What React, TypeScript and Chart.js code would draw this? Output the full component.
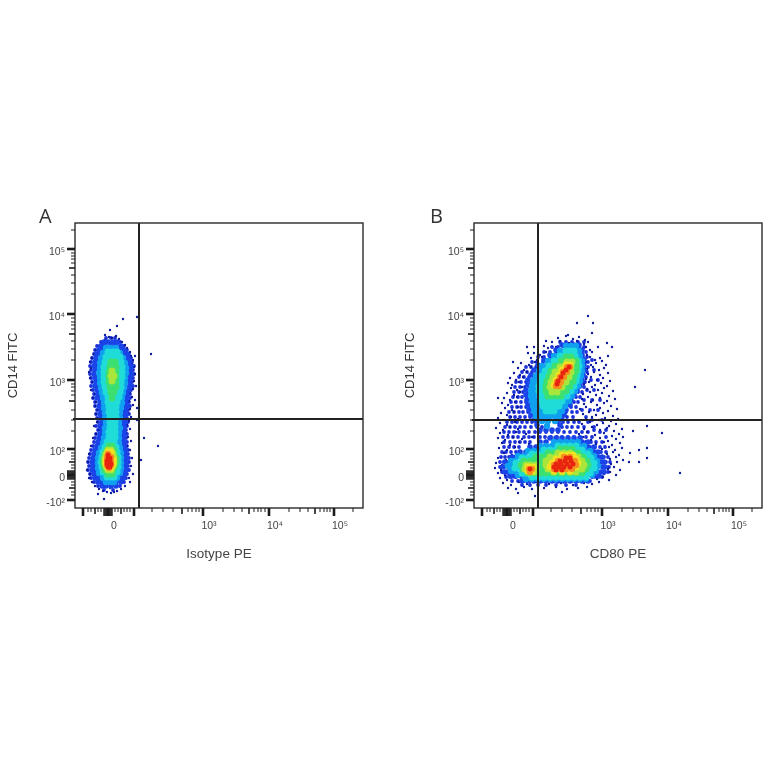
import { useEffect, useRef } from "react";
import { Chart, registerables } from "chart.js";

Chart.register(...registerables);

type Pt = number[];

// biexponential axis, in display channels
const bigTicks = [8, 33, 59, 128, 194, 259];
const midTicks = [20, 46, 107, 174, 240];
const zeroBlock = [29, 30, 31, 32, 34, 35, 36, 37];
const smallTicks = [
  13, 16, 23, 26, 40, 43, 49, 52, 55, 77, 88, 98, 113, 117, 121, 124,
  148, 159, 167, 179, 183, 186, 190, 214, 225, 233, 245, 249, 252, 255, 278,
];
const xLabelTicks = [33, 128, 194, 259];
const xLabels = ["0", "10³", "10⁴", "10⁵"];
const yLabelTicks = [8, 33, 59, 128, 194, 259];
const yLabels = ["-10²", "0", "10²", "10³", "10⁴", "10⁵"];

const gateA = { x: 64, y: 89 };
const gateB = { x: 64, y: 88 };

// single events: [x, y] in channels
const aDots: Pt[] = [
  [30,168],[34,171],[37,170],[41,172],[44,169],[27,165],[47,166],[24,162],[50,163],[52,160],[21,158],[55,156],
  [19,154],[56,152],[17,150],[58,148],[15,146],[18,143],[57,144],[16,140],[59,141],[14,136],[56,137],[18,133],
  [60,134],[15,130],[57,130],[17,126],[59,127],[19,122],[56,123],[16,118],[58,119],[20,114],[55,115],[18,110],
  [57,111],[21,106],[54,107],[20,102],[58,103],[23,98],[55,99],[21,94],[53,95],[24,90],[56,91],[22,86],[54,87],
  [19,82],[52,83],[24,78],[55,79],[21,74],[51,75],[18,70],[53,71],[22,66],[56,67],[16,62],[52,62],[19,58],[55,58],
  [14,54],[50,54],[17,50],[57,50],[13,46],[53,46],[16,42],[56,42],[12,38],[52,38],[15,34],[58,34],[14,30],[54,30],
  [17,26],[55,26],[20,22],[50,22],[24,19],[46,19],[28,17],[42,17],[32,16],[36,15],[39,16],[26,160],[30,162],[35,165],
  [40,165],[45,160],[22,150],[24,140],[22,128],[25,115],[24,105],[26,92],[25,80],[24,68],[22,55],[20,45],[20,35],
  [23,27],[28,23],[35,20],[42,23],[48,27],[50,35],[50,44],[48,55],[48,68],[49,80],[50,90],[52,105],[52,118],[54,130],
  [53,145],[50,155],[48,189],[62,191],[42,182],[35,178],[30,173],[76,154],[69,70],[83,62],[66,48],[23,14],[29,9],
  [62,88],[62,100],[60,108],[61,122],[60,152],
];
const bDots: Pt[] = [
  [114,192],[103,185],[119,185],[118,175],[94,173],[133,165],[138,161],[171,138],[161,121],[124,161],[134,152],[72,167],
  [53,161],[60,161],[54,155],[39,146],[24,110],[173,82],[159,77],[188,75],[173,50],[165,46],[173,60],[165,58],[156,55],
  [155,46],[206,35],
  [84,170],[92,172],[99,169],[105,171],[111,168],[78,166],[86,167],[95,165],[103,167],[110,164],[114,166],[70,162],
  [74,160],[82,161],[106,159],[112,161],[116,158],[60,155],[66,153],[72,156],[78,154],[108,155],[113,153],[118,156],
  [57,150],[63,148],[68,151],[110,149],[116,151],[121,148],[126,150],[47,145],[55,143],[61,146],[112,146],[117,143],
  [122,145],[128,147],[132,143],[44,140],[50,138],[57,141],[113,139],[119,141],[125,138],[130,140],[40,135],[46,133],
  [53,136],[114,134],[120,136],[126,133],[134,135],[36,130],[42,128],[49,131],[112,129],[117,131],[123,128],[129,130],
  [136,127],[34,125],[38,123],[45,126],[110,124],[115,126],[121,123],[127,125],[133,122],[37,120],[43,118],[48,121],
  [113,119],[118,121],[124,118],[130,120],[139,117],[33,115],[40,113],[46,116],[109,114],[116,116],[122,113],[128,115],
  [135,112],[30,110],[36,108],[43,111],[108,109],[114,111],[119,108],[126,110],[133,107],[141,109],[28,105],[34,103],
  [41,106],[110,104],[117,106],[123,103],[130,105],[137,102],[31,100],[38,98],[44,101],[106,99],[112,101],[120,98],
  [126,100],[134,97],[143,99],[27,95],[33,93],[40,96],[109,94],[115,96],[122,93],[129,95],[139,92],[24,90],[30,88],
  [37,91],[44,89],[112,89],[118,91],[125,88],[131,90],[137,87],[144,89],[26,85],[33,83],[41,86],[108,84],[116,86],
  [123,83],[129,85],[135,82],[142,84],[22,80],[29,78],[36,81],[44,79],[110,79],[118,81],[126,78],[133,80],[140,77],
  [148,79],[26,75],[34,73],[42,76],[52,74],[105,74],[113,76],[121,73],[130,75],[138,72],[145,74],[24,70],[31,68],
  [39,71],[48,69],[58,71],[100,69],[109,71],[117,68],[126,70],[134,67],[142,69],[149,71],[28,65],[36,63],[45,66],
  [55,64],[122,64],[130,66],[138,63],[146,65],[25,60],[33,58],[41,61],[128,59],[135,61],[141,58],[148,60],[30,55],
  [38,53],[133,54],[139,56],[145,53],[24,50],[32,48],[39,51],[136,49],[142,51],[149,48],[22,45],[28,43],[35,46],
  [137,44],[143,46],[21,40],[27,38],[33,41],[134,39],[140,41],[146,38],[24,35],[31,33],[38,36],[130,34],[136,36],
  [142,33],[26,30],[33,28],[41,31],[123,29],[129,31],[135,28],[29,25],[37,23],[45,26],[53,24],[63,26],[75,24],[87,25],
  [99,23],[110,25],[118,24],[125,26],[34,20],[42,19],[50,21],[58,19],[70,20],[82,21],[93,19],[104,20],[113,21],
  [44,15],[61,12],[88,16],
];

// density contours of panel A: each row is [y, x, x, x...]
const aOuter = [
  [170,31,36,40],[166,26,45],[162,22,49],[158,20,52],[154,19,54],[150,17,56],[146,16,57],[142,15,59],[138,16,58],
  [134,15,59],[130,16,58],[126,17,57],[122,16,58],[118,18,56],[114,19,55],[110,18,55],[106,20,54],[102,20,55],
  [98,22,53],[94,21,54],[90,22,52],[86,23,53],[82,21,52],[78,23,51],[74,21,52],[70,20,51],[66,19,52],[62,18,52],
  [58,16,53],[54,15,53],[50,14,54],[46,13,54],[42,14,53],[38,13,54],[34,15,52],[30,16,51],[26,19,49],[22,23,45],[18,29,38],
];
const aBlue = [
  [166,29,33,38,42],[162,26,30,36,41,46],[158,24,28,46,49],[154,22,26,48,52],[150,21,25,49,53],[146,20,24,51,54],
  [142,19,23,52,56],[138,20,24,51,55],[134,19,22,53,56],[130,20,24,51,55],[126,21,25,50,54],[122,20,24,50,55],
  [118,22,26,49,53],[114,23,27,49,52],[110,22,26,48,52],[106,25,28,47,51],[102,24,28,48,52],[98,26,30,46,50],
  [94,25,29,47,51],[90,26,30,45,49],[86,27,30,46,50],[82,25,29,45,49],[78,27,30,44,48],[74,25,29,45,49],
  [70,24,28,44,48],[66,23,27,45,49],[62,22,26,44,49],[58,20,24,45,50],[54,19,23,46,50],[50,18,22,46,51],
  [46,17,21,47,51],[42,18,22,46,50],[38,17,21,46,51],[34,19,23,45,49],[30,20,24,44,48],[26,23,27,41,46],[22,27,31,36,41],
];
const aSky = [
  [160,31,36,41],[155,28,33,39,45],[150,26,30,44,48],[145,25,29,45,50],[140,25,29,46,51],[135,24,28,47,51],
  [130,25,29,46,50],[125,25,29,46,50],[120,26,30,45,49],[115,27,31,44,48],[110,28,32,44,47],[105,29,33,43,47],
  [100,29,33,42,46],[95,30,34,42,45],[90,30,33,41,45],[85,31,34,41,44],[80,30,34,41,45],[75,30,33,41,44],
  [70,29,33,41,44],[65,28,32,41,44],[60,26,30,41,45],[55,24,28,42,46],[50,23,27,43,46],[45,23,27,43,46],
  [40,23,27,42,46],[35,24,28,41,45],[30,28,33,38,42],[26,31,36,39],
];
const aCyan = [
  [156,33,38,42],[151,31,36,41,45],[146,30,34,42,46],[141,29,33,43,47],[136,29,45,47],[131,29,32,43,47],
  [126,29,33,43,46],[121,30,34,43,46],[116,31,35,41,45],[111,33,37,41,44],[106,33,37,42],[101,34,38,41],
  [96,34,38,41],[91,35,38,41],[86,35,38,40],[81,35,38,40],[76,34,37,40],[71,34,37,40],[66,32,36,39],
  [61,30,34,38,41],[56,28,32,38,42],[51,27,30,39,43],[46,26,29,40,43],[41,27,30,40,43],[36,28,32,38,42],[31,32,36,39],
];
const aGreen = [
  [146,36,40],[141,35,38,41],[136,34,37,41],[131,34,37,41],[126,34,38,41],[121,35,38,41],[116,36,39],[110,37],
  [62,34,37],[58,32,36,39],[54,30,34,39],[50,29,33,38,41],[46,28,32,38,41],[42,29,33,38,40],[38,30,34,38],[34,33,37],
];
const aLime = [
  [137,37],[132,36,39],[127,37],[58,33,36],[54,31,36,38],[50,30,35,39],[46,30,35,39],[42,31,36,38],[38,33,36],
];
const aYellow = [[56,33,36],[52,32,36],[48,31,36,38],[44,31,35,38],[40,33,36]];
const aOrange = [[54,33],[51,32,36],[47,32,36],[43,32,36],[40,34]];
const aRed = [[53,33],[50,33,35],[47,32,35],[44,32,36],[41,33,35]];

// density contours of panel B
const bOuter = [
  [166,86,92,98,104,110],[161,78,84,90,105,110],[156,70,76,82,88,108,112],[151,64,70,76,109,113],
  [146,58,63,69,110,114],[141,52,57,62,67,110,114],[136,48,53,58,63,109,113],[131,45,50,55,60,108,112],
  [126,42,47,52,57,108,111],[121,41,46,51,56,106,110],[116,40,45,49,54,104,108],[111,39,44,48,53,102,106],
  [106,37,42,47,52,57,100,104],[101,38,43,47,52,56,97,102],[96,35,40,45,49,54,59,92,98,103],
  [91,36,41,46,51,56,88,93,99,112],[86,33,38,43,48,53,58,62,84,89,94,100,105,114],
  [81,31,36,41,46,51,57,63,68,88,93,98,104,110,120],[76,30,35,40,45,50,55,61,66,72,78,84,90,96,102,108,114,126],
  [71,29,34,39,44,50,55,60,66,71,77,83,88,94,100,106,112,118,132],[66,30,36,41,46,51,56,112,117,122,128],
  [61,30,35,40,45,116,121,126,131],[56,28,32,37,42,122,127,132],[51,27,31,35,126,130,134],[46,26,30,34,128,132,136],
  [41,26,30,34,128,132,135],[36,28,32,37,126,130,134],[31,32,37,42,47,118,123,128],
  [27,38,44,50,56,62,68,74,80,86,92,98,104,110,116],[23,48,56,64,72,82,92,102],
  [148,118],[138,120],[128,117,124],[118,113,120],[108,110,118,126],[98,108,116,124],[88,118,128],[78,120,132],
];
const bBlue = [
  [163,88,92,100,105],[158,82,108],[153,76,108],[148,70,110],[143,64,110],[138,60,110],[133,57,109],[128,54,108],
  [123,54,106],[118,52,103],[113,52,100],[108,53,97],[103,54,96],[98,55,92],[93,57,90],[88,60,88],[83,63,86],
  [78,66,72,78,84],[70,76,82,88,94,100,106],[66,66,72,108,114],[61,56,62,114,120],[56,46,52,120,124],
  [51,38,42,124,128],[46,31,127,130],[41,29,129,131],[36,31,34,127,130],[32,36,40,120,125],
  [27,48,54,60,66,72,78,84,90,96,102,108,114],
];
const bSky = [
  [162,92,97,102],[157,86,91,96,101,105],[152,80,85,90,102,106],[147,74,79,84,104,108],[142,68,73,78,105,108],
  [137,65,69,74,105,108],[132,62,66,71,104,107],[127,59,63,68,102,106],[122,58,62,66,100,104],[117,57,61,65,97,101],
  [112,57,61,65,94,98],[107,58,62,66,90,95],[102,59,63,67,72,77,82,87,91],[97,60,64,69,74,79,84,88],
  [92,62,66,71,76,81,85],[87,68,74,81],[82,73],[66,80,86,92,98,104],[62,66,72,78,104,110],
  [57,54,60,66,110,116],[52,44,50,116,120],[47,37,41,119,123],[42,34,38,120,124],[37,37,41,118,122],
  [33,44,50,112,118],[29,52,58,64,70,76,82,88,94,100,106,112],
];
const bCyan = [
  [157,92,96,100],[152,86,90,96,101],[147,80,85,100,104],[142,75,79,101,105],[137,71,75,101,104],[132,68,72,100,103],
  [127,66,70,98,102],[122,65,69,96,100],[117,65,69,93,97],[112,66,70,74,88,93],[107,67,71,75,80,85,88],
  [102,69,73,77,81,85],[97,72,76,80],[62,84,90,96,102],[58,70,76,82,104,108],[54,58,64,70,108,114],
  [50,48,54,60,112,117],[45,42,46,115,120],[40,41,45,116,120],[35,48,52,56,112,116],[31,58,64,70,76,82,88,94,100,106,112],
];
const bGreen = [
  [151,92,97],[147,87,91,98,102],[142,81,85,98,102],[137,77,81,99,102],[132,75,79,97,100],[127,73,77,95,99],
  [122,72,76,92,96],[117,72,76,81,88,92],[112,74,78,83,87],[59,86,92,98],[55,74,80,100,104],
  [51,62,68,74,104,109],[47,50,56,60,66,72,108,113],[43,47,51,66,70,110,114],[39,49,66,70,108,112],
  [35,54,60,66,72,78,84,90,96,102,108],
];
const bLime = [
  [146,93,98],[141,86,90,97],[136,81,85,97],[131,79,83,95],[126,77,81,92],[121,76,80,88],[116,78,83],
  [55,84,90,96],[51,76,82,98,104],[47,72,78,102,108],[43,52,56,62,72,106,110],[39,51,62,74,104,108],[36,56,60,80,88,96,102],
];
const bYellow = [
  [143,92,96],[138,88,93],[133,85,90],[128,82,87],[123,80,84],
  [53,88,94,99],[49,82,88,102],[45,78,84,104],[41,54,59,76,82,102],[37,54,58,80,88,96],
];
const bOrange = [
  [141,93,96],[136,89,93],[131,86,90],[126,83,87],[122,82,85],
  [51,90,96],[47,84,90,96,101],[43,80,86,92,98,102],[39,55,58,80,86,92,98],[36,56],
];
const bRed = [
  [141,95],[138,92],[135,89],[131,87],[127,84],[124,83],
  [50,92,96],[47,86,91,97],[44,82,87,93,99],[41,80,85,90,96],[38,82,88],[39,56],
];

const bandColors = ["#e82410", "#f59020", "#f2e222", "#a8e63c", "#3ce070", "#20dcd8", "#10a0f0", "#1a44e8", "#0c1a9c", "#1a30d8"];
const bandRadius = [2.5, 3.2, 3.5, 3.5, 3.5, 3.5, 3.2, 2.8, 1.2, 1.9];

// [y, x, x...] rows to [x, y] points
const toPoints = (rows: number[][]) =>
  rows.flatMap(([y, ...xs]) => xs.map((x) => [x, y]));

const tickFont = { family: "'Liberation Sans'", size: 10.5 };
const xTitleFont = { family: "'Liberation Sans'", size: 13.5 };
const yTitleFont = { family: "'Liberation Sans'", size: 13 };

const frame = (letter: string, letterX: number) => ({
  id: "frame",
  afterDraw(chart: any) {
    const { ctx, chartArea: a, scales } = chart;
    ctx.save();
    ctx.strokeStyle = "#2a2a2a";
    ctx.lineWidth = 1.4;
    ctx.strokeRect(a.left, a.top, a.right - a.left, a.bottom - a.top);
    const mark = (v: number, len: number, w: number) => {
      ctx.lineWidth = w;
      ctx.strokeStyle = "#1c1c1c";
      let p = scales.x.getPixelForValue(v);
      ctx.beginPath();
      ctx.moveTo(p, a.bottom);
      ctx.lineTo(p, a.bottom + len);
      ctx.stroke();
      p = scales.y.getPixelForValue(v);
      ctx.beginPath();
      ctx.moveTo(a.left, p);
      ctx.lineTo(a.left - len, p);
      ctx.stroke();
    };
    smallTicks.forEach((v) => mark(v, 4, 1));
    midTicks.forEach((v) => mark(v, 6, 1.6));
    zeroBlock.forEach((v) => mark(v, 8, 1.4));
    bigTicks.forEach((v) => mark(v, 8, 2.6));
    ctx.fillStyle = "#333";
    ctx.font = "20px 'Open Sans'";
    ctx.fillText(letter, letterX, 223);
    ctx.restore();
  },
});

function FlowPlot(props: {
  bands: Pt[][];
  gate: { x: number; y: number };
  letter: string;
  letterX: number;
  xTitle: string;
  left: number;
  padLeft: number;
  canvasLeft: number;
}) {
  const ref = useRef<HTMLCanvasElement | null>(null);
  const { bands, gate, letter, letterX, xTitle, left, padLeft, canvasLeft } = props;

  useEffect(() => {
    if (!ref.current) return;
    const gates = [
      { data: [{ x: gate.x, y: 0 }, { x: gate.x, y: 285 }] },
      { data: [{ x: -2, y: gate.y }, { x: 288, y: gate.y }] },
    ].map((g) => ({
      ...g,
      showLine: true,
      pointRadius: 0,
      borderColor: "#222",
      borderWidth: 2,
      clip: false as any,
    }));
    const marks = bands.map((b, i) => ({
      data: b,
      pointRadius: bandRadius[i],
      pointBackgroundColor: bandColors[i],
      pointBorderWidth: 0,
      showLine: false,
    }));
    const chart = new Chart(ref.current, {
      type: "scatter",
      data: { datasets: [...gates, ...marks] as any },
      plugins: [frame(letter, letterX)],
      options: {
        animation: false,
        responsive: false,
        layout: {
          autoPadding: false,
          padding: { left: padLeft, top: 223, right: 382 - left - 288, bottom: 202 },
        },
        plugins: { legend: { display: false }, tooltip: { enabled: false } },
        scales: {
          x: {
            type: "linear",
            min: 0,
            max: 288,
            grid: { display: false, drawTicks: false },
            border: { display: false },
            afterBuildTicks: (s: any) => { s.ticks = xLabelTicks.map((value) => ({ value })); },
            afterFit: (s: any) => { s.height = 54; },
            ticks: {
              autoSkip: false,
              maxRotation: 0,
              padding: 12,
              labelOffset: 6,
              color: "#444",
              font: tickFont,
              callback: (v: any) => xLabels[xLabelTicks.indexOf(v)],
            },
            title: { display: true, text: xTitle, color: "#444", font: xTitleFont, padding: { top: 0, bottom: 0 } },
          },
          y: {
            type: "linear",
            min: 0,
            max: 285,
            grid: { display: false, drawTicks: false },
            border: { display: false },
            afterBuildTicks: (s: any) => { s.ticks = yLabelTicks.map((value) => ({ value })); },
            afterFit: (s: any) => { s.width = left - padLeft; },
            ticks: {
              autoSkip: false,
              padding: 10,
              labelOffset: 3,
              color: "#444",
              font: tickFont,
              callback: (v: any) => yLabels[yLabelTicks.indexOf(v)],
            },
            title: { display: true, text: "CD14 FITC", color: "#333", font: yTitleFont, padding: { top: 0, bottom: 0 } },
          },
        },
      },
    });
    return () => chart.destroy();
  }, []);

  return (
    <canvas
      ref={ref}
      width={382}
      height={764}
      style={{ position: "absolute", left: canvasLeft, top: 0, filter: "blur(0.5px)" }}
    />
  );
}

export default function App() {
  return (
    <div style={{ position: "fixed", left: 0, top: 0, width: 764, height: 764, background: "#fff" }}>
      <FlowPlot
        bands={[...[aRed, aOrange, aYellow, aLime, aGreen, aCyan, aSky, aBlue].map(toPoints), aDots, toPoints(aOuter)]}
        gate={gateA}
        letter="A"
        letterX={39}
        xTitle="Isotype PE"
        left={75}
        padLeft={6}
        canvasLeft={0}
      />
      <FlowPlot
        bands={[...[bRed, bOrange, bYellow, bLime, bGreen, bCyan, bSky, bBlue].map(toPoints), bDots, toPoints(bOuter)]}
        gate={gateB}
        letter="B"
        letterX={48}
        xTitle="CD80 PE"
        left={92}
        padLeft={21}
        canvasLeft={382}
      />
    </div>
  );
}
